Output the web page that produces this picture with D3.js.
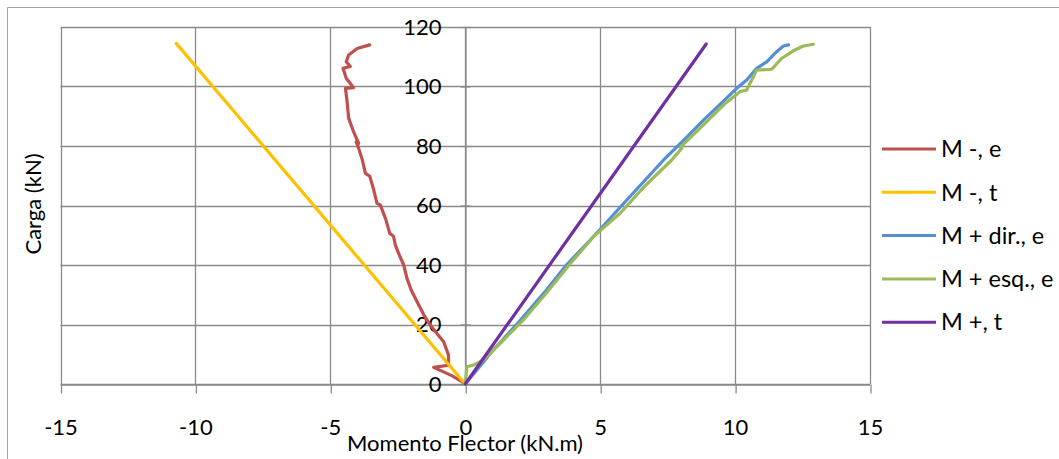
<!DOCTYPE html>
<html><head><meta charset="utf-8">
<script src="https://cdn.jsdelivr.net/npm/d3@7/dist/d3.min.js"></script>
<style>
html,body{margin:0;padding:0;background:#fff;}
svg{display:block;font-family:Lato,"Open Sans",sans-serif;}
</style></head><body>
<svg id="chart" width="1059" height="459"></svg>
<script>
// ---- data (x = Momento Flector kN.m, y = Carga kN) ----
const seriesNames = ["M -, e", "M -, t", "M + dir., e", "M + esq., e", "M +, t"];
const mNegE_x = [0, -0.12, -0.5, -1.17, -0.62, -0.62, -0.8, -1.05, -1.3, -1.55, -1.79, -2.0, -2.16, -2.28, -2.45, -2.59, -2.66, -2.8, -2.95, -3.15, -3.27, -3.4, -3.54, -3.7, -3.82, -3.95, -4.04, -3.95, -4.14, -4.32, -4.38, -4.44, -4.14, -4.3, -4.41, -4.53, -4.26, -4.41, -4.32, -4.01, -3.54];
const mNegE_y = [0, 0.8, 2.8, 5.6, 6.3, 9.7, 14.2, 17.0, 19.8, 23.5, 27.7, 31.5, 35.5, 40.0, 43.5, 46.7, 49.7, 50.7, 55.5, 60.2, 60.7, 65.5, 69.9, 70.8, 75.5, 79.2, 81.4, 80.9, 84.8, 89.3, 95.0, 99.4, 99.6, 101.5, 102.8, 106.1, 106.7, 108.3, 110.6, 112.8, 114.0];
const mNegT_x = [0, -10.71];
const mNegT_y = [0, 114.5];
const mPosDir_x = [0, 0.5, 1.0, 2.0, 3.0, 3.75, 4.8, 5.8, 7.35, 8.1, 8.83, 9.5, 10.06, 10.43, 10.8, 11.17, 11.54, 11.79, 11.98];
const mPosDir_y = [0, 5.5, 11.0, 21.0, 31.5, 40.0, 50.0, 60.0, 75.3, 82.0, 88.7, 94.5, 99.4, 102.2, 106.1, 108.3, 111.7, 113.6, 114.0];
const mPosEsq_x = [0, 0.06, 0.31, 0.68, 1.3, 2.2, 3.0, 3.85, 4.75, 4.85, 5.74, 6.6, 7.65, 8.02, 7.98, 8.95, 9.6, 10.19, 10.43, 10.8, 11.36, 11.73, 12.16, 12.53, 12.9];
const mPosEsq_y = [0, 5.8, 6.4, 8.1, 13.7, 22.0, 30.5, 40.0, 49.5, 50.3, 57.4, 66.0, 75.3, 79.2, 79.6, 88.2, 94.0, 98.3, 98.8, 105.5, 105.8, 109.5, 112.0, 113.6, 114.2];
const mPosT_x = [0, 8.93];
const mPosT_y = [0, 114.3];
const xTicks = [-15, -10, -5, 0, 5, 10, 15];
const yTicks = [0, 20, 40, 60, 80, 100, 120];
const xTitle = "Momento Flector (kN.m)";
const yTitle = "Carga (kN)";

const colors = ["#C0504D", "#FFC000", "#558ED5", "#9BBB59", "#7030A0"];
const seriesX = [mNegE_x, mNegT_x, mPosDir_x, mPosEsq_x, mPosT_x];
const seriesY = [mNegE_y, mNegT_y, mPosDir_y, mPosEsq_y, mPosT_y];
const series = seriesNames.map((n, i) => ({name: n, color: colors[i],
  pts: seriesX[i].map((x, j) => [x, seriesY[i][j]])}));

const svg = d3.select("#chart");
const L = 60.5, R = 870, T = 27, B = 384;
const x = d3.scaleLinear().domain([-15, 15]).range([L, R]);
const y = d3.scaleLinear().domain([0, 120]).range([B, T]);
const gridColor = "#8a8a8a";
const fontSize = 22;
const legendFont = 23.5;
const fam = "Lato, 'Open Sans', sans-serif";

// chart outer border (left and top only visible)
svg.append("path").attr("d", "M7.5,459 V7.5 H1059").attr("fill", "none").attr("stroke", "#a6a6a6").attr("stroke-width", 1);

// gridlines
svg.append("g").selectAll("line").data(yTicks).join("line")
  .attr("x1", L).attr("x2", R).attr("y1", d => Math.round(y(d)) + 0.5).attr("y2", d => Math.round(y(d)) + 0.5)
  .attr("stroke", gridColor).attr("stroke-width", 1.3);
svg.append("g").selectAll("line").data(xTicks).join("line")
  .attr("y1", T).attr("y2", B).attr("x1", d => Math.round(x(d)) + 0.5).attr("x2", d => Math.round(x(d)) + 0.5)
  .attr("stroke", gridColor).attr("stroke-width", 1.3);

// x axis at y=0
const xAxis = svg.append("g").attr("transform", `translate(0,${Math.round(y(0)) + 0.5})`)
  .call(d3.axisBottom(x).tickValues(xTicks).tickSizeInner(9).tickSizeOuter(0).tickPadding(26).tickFormat(d => String(d)));
xAxis.select(".domain").attr("stroke", gridColor).attr("stroke-width", 1.3);
xAxis.selectAll(".tick line").attr("stroke", gridColor).attr("stroke-width", 1.3)
  .attr("transform", "translate(0.5,0)");
xAxis.selectAll("text").attr("font-size", fontSize).attr("fill", "#000").attr("font-family", fam);

// y axis at x=0
const yAxis = svg.append("g").attr("transform", `translate(${Math.round(x(0)) + 0.5},0)`)
  .call(d3.axisLeft(y).tickValues(yTicks).tickSizeInner(5).tickSizeOuter(0).tickPadding(19).tickFormat(d => String(d)));
yAxis.select(".domain").attr("stroke", gridColor).attr("stroke-width", 1.3);
yAxis.selectAll(".tick line").attr("stroke", gridColor).attr("stroke-width", 1.3).attr("x2", 5).attr("x1", -5);
yAxis.selectAll("text").attr("font-size", fontSize).attr("fill", "#000").attr("font-family", fam);

// series lines
const line = d3.line().x(d => x(d[0])).y(d => y(d[1]));
svg.append("g").selectAll("path").data(series).join("path")
  .attr("d", d => line(d.pts)).attr("fill", "none").attr("stroke", d => d.color)
  .attr("stroke-width", 3.2).attr("stroke-linejoin", "round").attr("stroke-linecap", "round");

// axis titles
svg.append("text").attr("x", 465).attr("y", 451).attr("text-anchor", "middle")
  .attr("font-size", fontSize).attr("fill", "#000").text(xTitle);
svg.append("text").attr("transform", "translate(41,204) rotate(-90)").attr("text-anchor", "middle")
  .attr("font-size", fontSize).attr("fill", "#000").text(yTitle);

// legend
const lg = svg.append("g").selectAll("g").data(series).join("g")
  .attr("transform", (d, i) => `translate(882,${149 + i * 43.3})`);
lg.append("line").attr("x1", 0).attr("x2", 54).attr("stroke", d => d.color).attr("stroke-width", 3);
lg.append("text").attr("x", 59).attr("dy", "0.35em").attr("font-size", legendFont).attr("fill", "#000").text(d => d.name);
</script>
</body></html>
